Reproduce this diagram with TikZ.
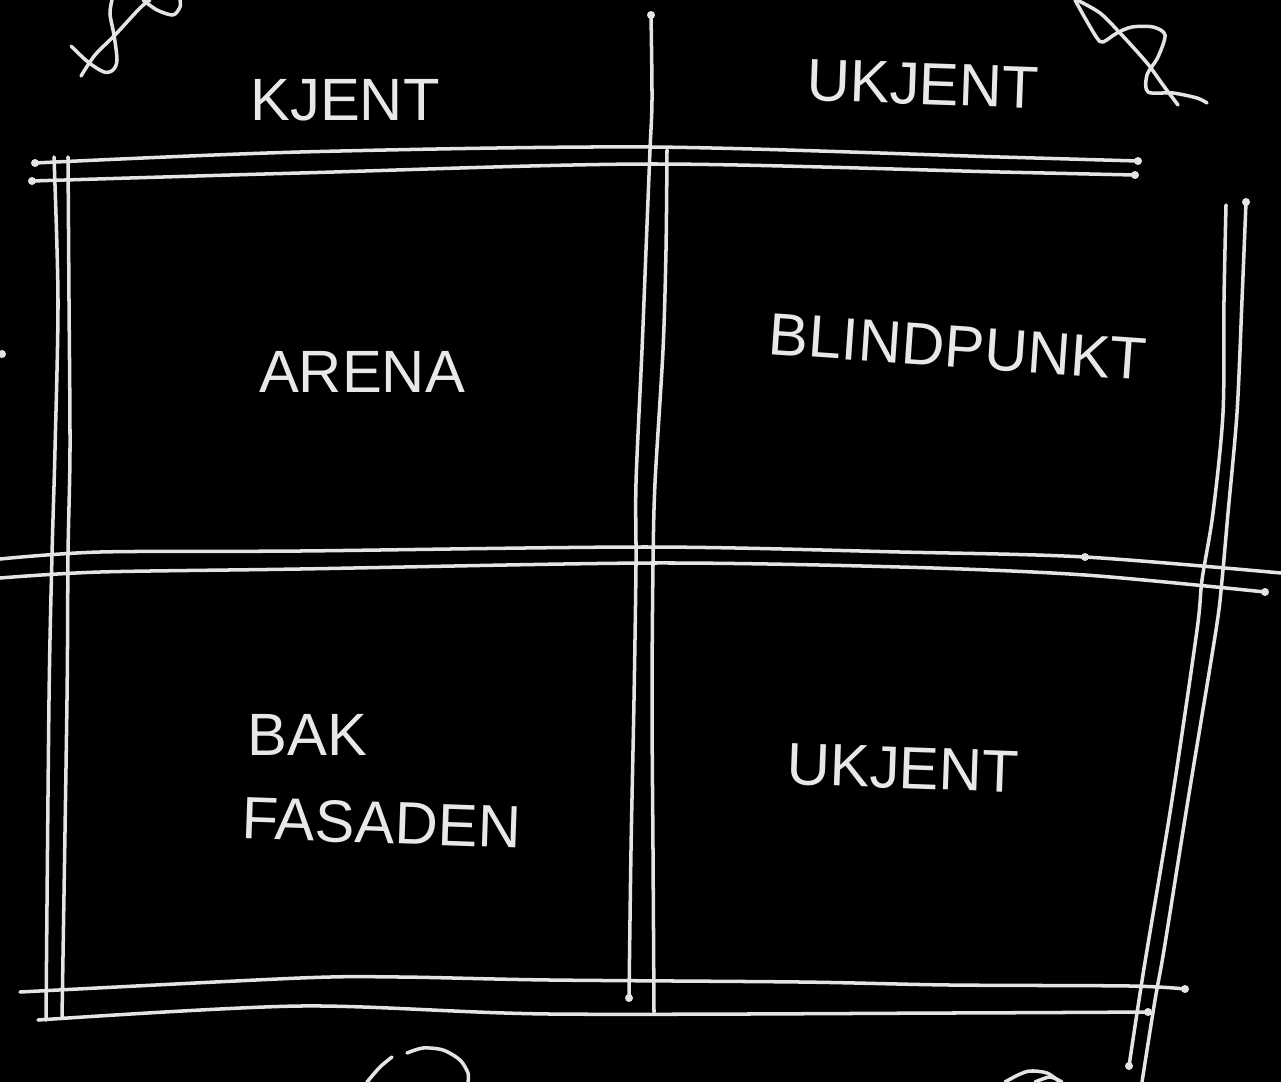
\documentclass[tikz,border=0pt]{standalone}
\usepackage{fontspec}
\setmainfont{Liberation Sans}
\definecolor{linecol}{HTML}{E4E4E4}
\definecolor{textcol}{HTML}{E8E8E8}
\begin{document}
\begin{tikzpicture}[x=0.02cm,y=-0.02cm,
  chalk/.style={draw=linecol, line width=2pt, line cap=round, line join=round},
  lbl/.style={text=textcol, font=\fontsize{34}{40}\selectfont, inner sep=0pt},
  enddot/.style={fill=linecol, draw=none}]
\fill[black] (0,0) rectangle (1281,1082);
\useasboundingbox (0,0) rectangle (1281,1082);

% top double line
\draw[chalk] plot[smooth] coordinates {(35,163) (300,152) (650,147) (1000,157) (1138,161)};
\draw[chalk] plot[smooth] coordinates {(32,181) (300,173) (650,164) (1000,172) (1135,175)};
% middle horizontal double line
\draw[chalk] plot[smooth] coordinates {(0,559) (100,552) (300,551) (650,547) (900,552) (1085,557) (1281,573)};
\draw[chalk] plot[smooth] coordinates {(0,578) (100,572) (300,569) (650,563) (900,567) (1085,575) (1265,592)};
% bottom double line
\draw[chalk] plot[smooth] coordinates {(20,992) (300,978) (400,977) (550,980) (800,982) (950,985) (1130,986) (1185,989)};
\draw[chalk] plot[smooth] coordinates {(38,1020) (300,1006) (550,1014) (950,1013) (1148,1012)};

% left double vertical
\draw[chalk] plot[smooth] coordinates {(54,157) (58,300) (55,450) (52,555) (49,700) (46,1020)};
\draw[chalk] plot[smooth] coordinates {(68,157) (69,300) (70,450) (68,555) (67,700) (62,1018)};
% middle double vertical
\draw[chalk] plot[smooth] coordinates {(651,15) (652,100) (650,150) (646,250) (642,350) (636,483) (636,565) (634,700) (631,850) (629,998)};
\draw[chalk] plot[smooth] coordinates {(667,150) (666,250) (663,350) (655,483) (653,565) (652,700) (653,850) (654,1012)};
% right double vertical
\draw[chalk] plot[smooth] coordinates {(1226,205) (1224,300) (1223,413) (1213,513) (1202,580) (1197,630) (1172,800) (1147,950) (1139,1000) (1129,1066)};
\draw[chalk] plot[smooth] coordinates {(1246,202) (1242,300) (1237,413) (1228,513) (1222,580) (1216,630) (1188,800) (1164,950) (1155,1000) (1142,1082)};

% end dots
\foreach \p in {(1138,161),(1135,175),(1246,202),(1265,592),(1185,989),(1129,1066),(629,998),(651,15),(35,163),(32,181),(1148,1012),(1085,557),(2,354)}
  \fill[enddot] \p circle[radius=0.08cm];

% top-left squiggle
\draw[chalk] plot[smooth] coordinates {(71,46) (88,62) (104,72) (113,70) (117,60) (114,35) (110,14) (112,0)};
\draw[chalk] plot[smooth] coordinates {(81,76) (95,55) (115,35) (140,8) (150,0)};
\draw[chalk] plot[smooth] coordinates {(143,0) (157,10) (173,15) (180,7) (180,0)};
% top-right squiggle
\draw[chalk] plot[smooth] coordinates {(1075,0) (1085,18) (1097,38) (1103,42) (1117,33) (1132,27) (1153,27) (1165,35) (1158,57) (1147,75) (1148,92) (1173,93) (1197,98) (1207,103)};
\draw[chalk] plot[smooth] coordinates {(1077,0) (1100,13) (1120,33) (1147,63) (1163,85) (1178,105)};
% bottom squiggles
\draw[chalk] plot[smooth] coordinates {(367,1082) (380,1067) (392,1057)};
\draw[chalk] plot[smooth] coordinates {(407,1053) (423,1048) (443,1050) (460,1060) (468,1073) (468,1082)};
\draw[chalk] plot[smooth] coordinates {(1005,1082) (1018,1075) (1030,1071) (1047,1073) (1060,1082)};
\draw[chalk] plot[smooth] coordinates {(1035,1082) (1050,1077) (1062,1082)};

% labels
\node[lbl] (kjent) at (345,100) {KJENT};
\node[lbl, rotate=-2] (ukjenttop) at (923,84) {UKJENT};
\node[lbl] (arena) at (362,372) {ARENA};
\node[lbl, rotate=-4] (blind) at (958,347) {BLINDPUNKT};
\node[lbl, anchor=west] (bak) at (247,735) {BAK};
\node[lbl, anchor=west, rotate=-2] (fasaden) at (242,818) {FASADEN};
\node[lbl, rotate=-2] (ukjent) at (903,768) {UKJENT};
\end{tikzpicture}
\end{document}
